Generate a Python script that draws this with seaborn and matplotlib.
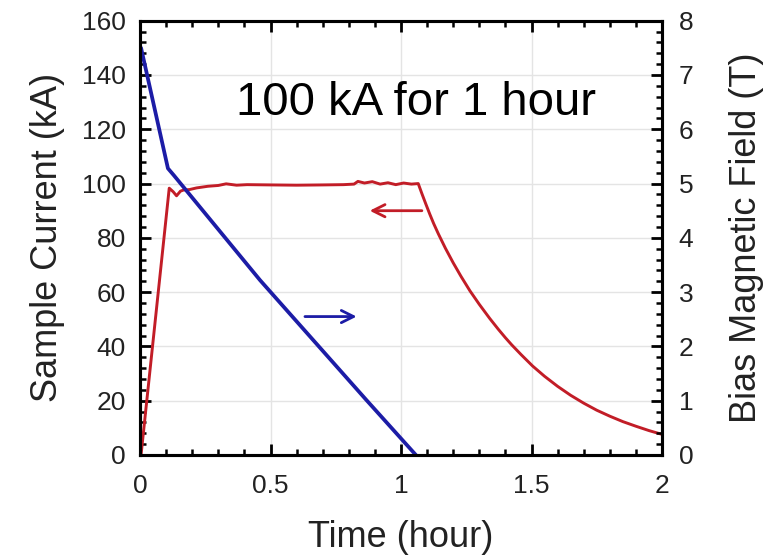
import matplotlib
matplotlib.use("Agg")
import matplotlib.pyplot as plt
import seaborn as sns
import pandas as pd
from matplotlib.ticker import MultipleLocator

# ---- data ----
red_time = [0.0, 0.004, 0.112, 0.127, 0.14, 0.155, 0.166, 0.19,
            0.217, 0.26, 0.3, 0.33, 0.37, 0.41, 0.5, 0.6, 0.7, 0.78, 0.82, 0.835,
            0.86, 0.89, 0.92, 0.95, 0.98, 1.01, 1.04, 1.066,
            1.08, 1.095, 1.11, 1.125, 1.143, 1.17, 1.2, 1.23, 1.264, 1.3, 1.34,
            1.373, 1.4, 1.424, 1.46, 1.504, 1.55, 1.6, 1.65, 1.7, 1.75, 1.8,
            1.85, 1.9, 1.95, 2.0]
red_current = [0.0, 0.0, 98.3, 97.0, 95.5, 97.2, 97.6, 97.8,
               98.4, 99.0, 99.3, 99.9, 99.4, 99.6, 99.5, 99.4, 99.5, 99.6, 99.8, 100.8,
               100.2, 100.7, 99.8, 100.3, 99.6, 100.2, 99.8, 100.0,
               96.3, 92.5, 88.8, 85.3, 81.5, 76.2, 70.8, 65.8, 60.5, 55.5, 50.3,
               46.3, 43.2, 40.6, 37.0, 32.8, 29.0, 25.3, 22.0, 19.1, 16.5, 14.3,
               12.3, 10.6, 9.0, 7.6]

blue_time = [0.004, 0.107, 0.13, 0.46, 0.866, 1.057]
blue_field = [7.5, 5.28, 5.15, 3.22, 1.02, 0.0]

x_ticks = [0, 0.5, 1, 1.5, 2]
x_ticklabels = ["0", "0.5", "1", "1.5", "2"]
y_left_ticks = [0, 20, 40, 60, 80, 100, 120, 140, 160]
y_right_ticks = [0, 1, 2, 3, 4, 5, 6, 7, 8]

annotation_text = "100 kA for 1 hour"
x_label = "Time (hour)"
y_left_label = "Sample Current (kA)"
y_right_label = "Bias Magnetic Field (T)"

red_df = pd.DataFrame({"t": red_time, "I": red_current})
blue_df = pd.DataFrame({"t": blue_time, "B": blue_field})

sns.set_theme(style="white")
plt.rcParams["font.family"] = ["Liberation Sans", "DejaVu Sans"]

RED = "#c21d27"
BLUE = "#1c1ca6"

fig = plt.figure(figsize=(7.68, 5.60), dpi=100)
ax = fig.add_axes([140 / 768, 1 - 455 / 560, 522 / 768, 434.3 / 560])
ax2 = ax.twinx()

sns.lineplot(data=red_df, x="t", y="I", ax=ax, color=RED, lw=2.1,
             estimator=None, sort=False)
sns.lineplot(data=blue_df, x="t", y="B", ax=ax2, color=BLUE, lw=2.7,
             estimator=None, sort=False)

ax.set_xlim(0, 2)
ax.set_ylim(0, 160)
ax2.set_ylim(0, 8)

ax.set_xticks(x_ticks)
ax.set_xticklabels(x_ticklabels)
ax.set_yticks(y_left_ticks)
ax2.set_yticks(y_right_ticks)
ax.xaxis.set_minor_locator(MultipleLocator(0.1))
ax.yaxis.set_minor_locator(MultipleLocator(4))
ax2.yaxis.set_minor_locator(MultipleLocator(0.2))

ax.grid(True, which="major", color="#e4e4e4", lw=1.0)
ax.set_axisbelow(True)

for a in (ax, ax2):
    for s in a.spines.values():
        s.set_linewidth(2.2)
        s.set_color("black")

ax.tick_params(axis="x", which="both", direction="in", top=True, bottom=True,
               labelsize=19, pad=14, colors="black")
ax.tick_params(axis="y", which="both", direction="in", left=True, right=False,
               labelsize=19, pad=10, colors="black")
ax.tick_params(which="major", length=8, width=2.0)
ax.tick_params(which="minor", length=4.5, width=1.8)
ax2.tick_params(axis="y", which="both", direction="in", right=True, left=False,
                labelsize=19, pad=12, colors="black")
ax2.tick_params(which="major", length=8, width=2.0)
ax2.tick_params(which="minor", length=4.5, width=1.8)

for lab in ax.get_xticklabels() + ax.get_yticklabels() + ax2.get_yticklabels():
    lab.set_color("#222222")

ax.set_xlabel(x_label, fontsize=26, va="center", color="#222222")
ax.xaxis.set_label_coords(0.5, -0.189)
ax.set_ylabel(y_left_label, fontsize=26, va="center", color="#222222")
ax.yaxis.set_label_coords(-0.178, 0.5)
ax2.set_ylabel(y_right_label, fontsize=26, va="center", rotation=90, color="#222222")
ax2.yaxis.set_label_coords(1.162, 0.5)

ax.text(1.057, 125.1, annotation_text, fontsize=34, ha="center", va="baseline",
        color="black")

ax.annotate("", xy=(0.88, 90), xytext=(1.08, 90),
            arrowprops=dict(arrowstyle="->", color=RED, lw=2.0,
                            mutation_scale=22, shrinkA=0, shrinkB=0))
ax.annotate("", xy=(0.83, 51), xytext=(0.632, 51),
            arrowprops=dict(arrowstyle="->", color=BLUE, lw=2.0,
                            mutation_scale=22, shrinkA=0, shrinkB=0))

fig.savefig("out.png", dpi=100, facecolor="white")
